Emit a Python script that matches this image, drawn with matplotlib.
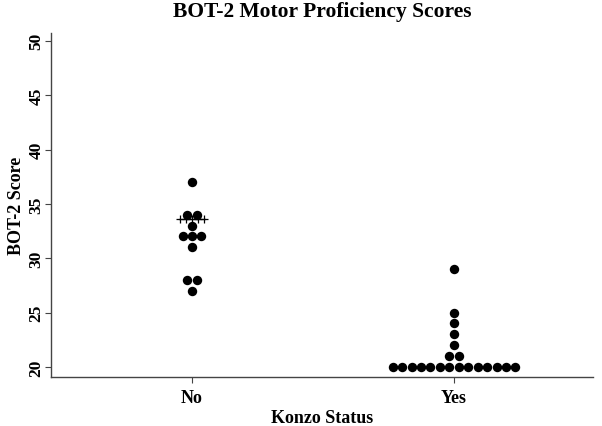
import numpy as np
import matplotlib
matplotlib.use("Agg")
import matplotlib.pyplot as plt

plt.rcParams['font.family'] = ['Liberation Serif', 'DejaVu Serif']
plt.rcParams['font.weight'] = 'bold'

# data
groups = ["No", "Yes"]
scores_no = [37, 34, 34, 33, 32, 32, 32, 31, 28, 28, 27]
scores_yes = [29, 25, 24, 23, 22, 21, 21] + [20] * 14
center_line = [33.6, None]   # the crossed line drawn over the "No" group
yticks = [20, 25, 30, 35, 40, 45, 50]

spacing = 0.036

fig = plt.figure(figsize=(6.02, 4.27), dpi=100)
ax = fig.add_axes([0.0847, 0.1148, 0.9003, 0.8052])

for gi, vals in enumerate([scores_no, scores_yes]):
    xs, ys = [], []
    for v in sorted(set(vals)):
        n = vals.count(v)
        for i in range(n):
            xs.append(gi + (i - (n - 1) / 2) * spacing)
            ys.append(v)
    ax.scatter(xs, ys, s=46, color='black', zorder=3, linewidths=0)

# crossed line on "No"
y0 = center_line[0]
ax.plot([-0.05, 0.05], [y0, y0], color='black', lw=0.9, zorder=4)
ax.plot(np.linspace(-0.044, 0.044, 5), [y0] * 5, '+', color='black',
        ms=6, mew=0.9, zorder=4)

ax.set_xlim(-0.538, 1.53)
ax.set_ylim(19.08, 50.7)
ax.set_xticks([0, 1])
ax.set_xticklabels(groups, fontsize=13, fontweight='bold')
ax.set_yticks(yticks)
ax.set_yticklabels([str(t) for t in yticks], fontsize=12.5,
                   fontweight='bold', rotation=90, va='center')

for s in ['top', 'right']:
    ax.spines[s].set_visible(False)
for s in ['left', 'bottom']:
    ax.spines[s].set_color('#444444')
    ax.spines[s].set_linewidth(1.0)
ax.tick_params(axis='both', length=4.5, width=0.8, color='#444444')
ax.tick_params(axis='y', pad=0)
ax.tick_params(axis='x', pad=4)

fig.text(0.535, 0.972, 'BOT-2 Motor Proficiency Scores', fontsize=15.5,
         fontweight='bold', ha='center', va='center')
ax.set_xlabel('Konzo Status', fontsize=13, fontweight='bold', labelpad=2)
ax.set_ylabel('BOT-2 Score', fontsize=13, fontweight='bold')
ax.yaxis.set_label_coords(-0.048, 0.5)

fig.savefig('out.png', dpi=100)
